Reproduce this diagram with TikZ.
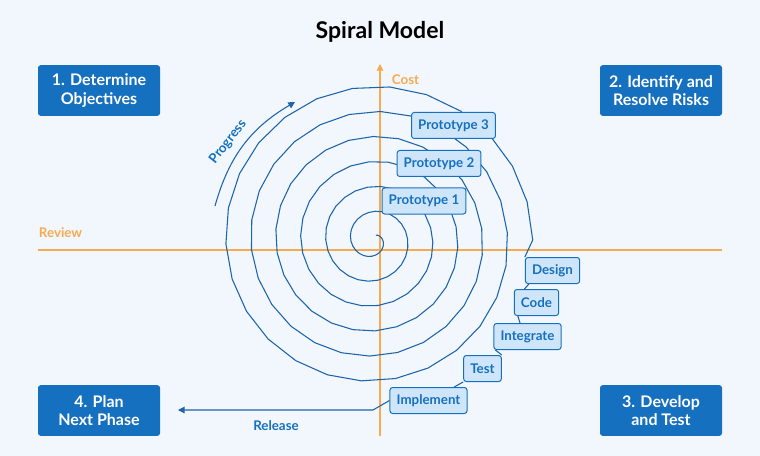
\documentclass[tikz,border=0pt]{standalone}
\usepackage{fontspec}
\setmainfont{Lato}
\usetikzlibrary{arrows.meta}
\definecolor{bgblue}{RGB}{241,247,253}
\definecolor{darkblue}{RGB}{22,112,192}
\definecolor{lineblue}{RGB}{30,100,170}
\definecolor{boxfill}{RGB}{207,230,250}
\definecolor{axisorange}{RGB}{247,170,80}
\tikzset{every picture/.style={line width=0.75pt}}
\tikzset{
  corner/.style={fill=darkblue,rounded corners=2pt,minimum width=91.5pt,minimum height=38pt,
    text=white,align=center,font=\large\bfseries,inner sep=0pt},
  stage/.style={fill=boxfill,draw=darkblue,rounded corners=2pt,text=darkblue,
    font=\normalsize\bfseries,minimum height=19.5pt,inner ysep=3.5pt,inner xsep=5pt},
  link/.style={draw=lineblue,line width=0.8pt},
  axis/.style={draw=axisorange,line width=0.9pt},
  axislabel/.style={text=axisorange,font=\normalsize\bfseries},
}

\begin{document}
\begin{tikzpicture}[x=0.75pt,y=0.75pt,yscale=-1,xscale=1]
\fill[bgblue] (0,0) rectangle (760,456);
\useasboundingbox (0,0) rectangle (760,456);

% Title
\node (title) at (380,32) {\LARGE\bfseries Spiral Model};

% Axes
\coordinate (reviewL) at (38,250);
\coordinate (reviewR) at (722,250);
\coordinate (costB) at (380,436);
\coordinate (costT) at (380,64);
\draw[axis] (reviewL) -- (reviewR);
\draw[axis,-{Triangle[length=5pt,width=5pt]}] (costB) -- (costT);
\node[axislabel,anchor=west] (cost) at (387,80) {Cost};
\node[axislabel,anchor=west] (review) at (34,233) {Review};

% Spiral
\draw[link,line join=round] plot[domain=-150:2070,samples=160]
  ({373+(16+\x/14.4)*cos(90+\x)},{240+(16+\x/14.4)*sin(90+\x)}) coordinate (spiralEnd);

% Prototypes
\node[stage] (proto1) at (424,201) {Prototype 1};
\node[stage] (proto2) at (439,163.5) {Prototype 2};
\node[stage] (proto3) at (453.5,125.5) {Prototype 3};

% Stages
\node[stage] (design) at (552.5,270.5) {Design};
\node[stage] (code) at (536.5,302.5) {Code};
\node[stage] (integrate) at (527.5,336.5) {Integrate};
\node[stage] (test) at (482.5,368.5) {Test};
\node[stage] (implement) at (428.5,400.5) {Implement};
\coordinate (releaseEnd) at (178,410);
\draw[link] (spiralEnd) -- (design.north west);
\draw[link] (design.south west) ++(4,0) -- ([xshift=8pt]code.north west);
\draw[link] (code.south west) ++(4,0) -- ([xshift=20pt]integrate.north west);
\draw[link] (integrate.south west) ++(2,0) -- (test.north east);
\draw[link] (test.south west) -- ([xshift=-10pt]implement.north east);
\draw[link,-{Triangle[length=5pt,width=5pt]}] (implement.west) -- (373,410) -- (releaseEnd);
\node[text=darkblue,font=\normalsize\bfseries] (release) at (276,426) {Release};

% Progress
\coordinate (progStart) at (215,206);
\coordinate (progEnd) at (295,102);
\draw[link,-{Triangle[length=5pt,width=5pt]}] (progStart) to[bend right=22] (progEnd);
\node[text=darkblue,font=\normalsize\bfseries,rotate=52] (progress) at (228,142) {Progress};

% Corner boxes
\node[corner] (objectives) at (99,90.5) {1. Determine\\Objectives};
\node[corner] (risks) at (661,90.5) {2. Identify and\\Resolve Risks};
\node[corner] (develop) at (661,410.5) {3. Develop\\and Test};
\node[corner] (plan) at (99,410.5) {4. Plan\\Next Phase};

\end{tikzpicture}
\end{document}
